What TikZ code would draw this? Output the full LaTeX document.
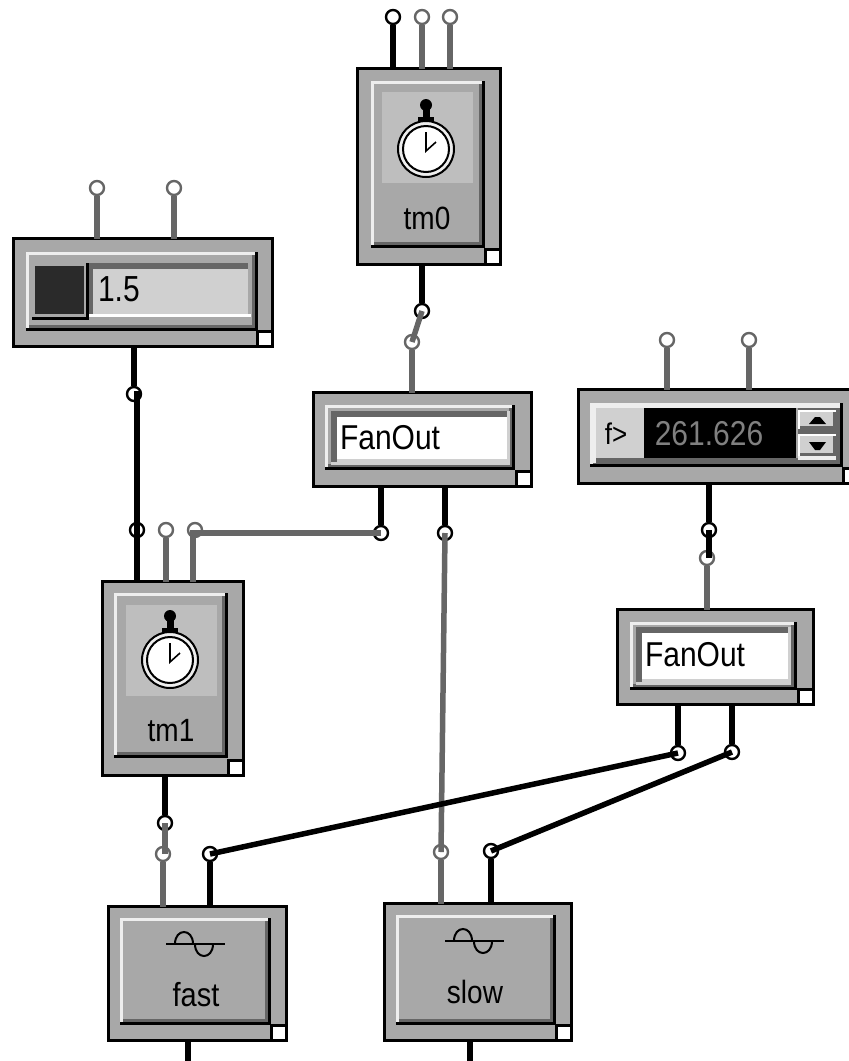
\documentclass[tikz,border=0pt]{standalone}
\usepackage{fontspec}
\setmainfont{Liberation Sans}
\definecolor{modgray}{HTML}{A8A8A8}
\definecolor{wiregray}{HTML}{666666}
\definecolor{lightpanel}{HTML}{BEBEBE}
\definecolor{fieldgray}{HTML}{D0D0D0}
\definecolor{bevelwhite}{HTML}{EEEEEE}
\definecolor{darkbtn}{HTML}{2A2A2A}
\definecolor{lcdtext}{HTML}{808080}
\newdimen\pxu \pxu=0.75pt
\tikzset{
  modbox/.style={draw=black,fill=modgray,line width=3\pxu,inner sep=0pt,outer sep=0pt},
  handlebox/.style={draw=black,fill=white,line width=3\pxu},
  portb/.style={circle,draw=black,fill=white,line width=2.4\pxu,inner sep=0pt,minimum size=14\pxu},
  portg/.style={circle,draw=wiregray,fill=white,line width=2.4\pxu,inner sep=0pt,minimum size=14\pxu},
  wireb/.style={draw=black,line width=5.5\pxu},
  wireg/.style={draw=wiregray,line width=5.5\pxu},
  lbl/.style={inner sep=0pt,outer sep=0pt,text=black},
  thinink/.style={draw=black,line width=2\pxu},
}
\newcommand{\pxt}[2]{\scalebox{1}[1.15]{\fontsize{#1\pxu}{#1\pxu}\selectfont #2}}
% name x1 y1 x2 y2
\newcommand{\modbody}[5]{%
  \node[modbox,minimum width={(#4-#2-3)*\pxu},minimum height={(#5-#3-3)*\pxu}] (#1) at ({(#2+#4)/2},{(#3+#5)/2}) {};
  \draw[handlebox] ({#4-16.5},{#5-16.5}) rectangle ({#4-1.5},{#5-1.5});
}
\newcommand{\panel}[4]{%
  \fill[black] (#1,#2) rectangle (#3,#4);
  \fill[bevelwhite] (#1,#2) rectangle ({#3-3},{#4-3});
  \fill[wiregray] ({#1+3},{#2+3}) rectangle ({#3-3},{#4-3});
  \fill[modgray] ({#1+3},{#2+3}) rectangle ({#3-6},{#4-6});
}
\newcommand{\sunken}[4]{%
  \fill[fieldgray] (#1,#2) rectangle (#3,#4);
  \fill[wiregray] (#1,#2) rectangle ({#3-3},{#4-3});
  \fill[white] ({#1+6},{#2+6}) rectangle ({#3-3},{#4-6});
  \fill[fieldgray] ({#1+6},{#4-6}) rectangle ({#3-3},{#4-3});
}
\newcommand{\watch}[2]{%
  \fill[black] ({#1},{#2-44}) circle (6);
  \fill[black] ({#1-3.5},{#2-42}) rectangle ({#1+3.5},{#2-28});
  \fill[black] ({#1-8},{#2-32}) rectangle ({#1+8},{#2-27});
  \draw[thinink,fill=bevelwhite] (#1,#2) circle (28);
  \draw[thinink,fill=white] (#1,#2) circle (23);
  \draw[black,line width=1.6\pxu] ({#1},{#2-17}) -- ({#1},{#2+2}) -- ({#1+10},{#2-7});
}
\newcommand{\sinewave}[2]{%
  \draw[black,line width=2\pxu] (#1,#2) -- ({#1+59},#2);
  \draw[black,line width=2\pxu] ({#1+9},#2) .. controls ({#1+9},{#2-16}) and ({#1+27},{#2-16}) .. ({#1+27},#2);
  \draw[black,line width=2\pxu] ({#1+29},#2) .. controls ({#1+29},{#2+16}) and ({#1+47},{#2+16}) .. ({#1+47},#2);
}
% x1 y1 x2 y2 : one spin button
\newcommand{\spinbtn}[4]{%
  \fill[white] (#1,#2) rectangle (#3,#4);
  \fill[wiregray] ({#1+2},{#2+2}) rectangle (#3,#4);
  \fill[fieldgray] ({#1+2},{#2+2}) rectangle ({#3-3},{#4-3});
}
\begin{document}
\begin{tikzpicture}[x=0.75pt,y=-0.75pt]
\useasboundingbox (0,0) rectangle (849,1061);
\clip (0,0) rectangle (849,1061);

% --- modules ---
\modbody{tmzero}{356}{67}{502}{266}
\panel{371}{81}{485}{248}
\fill[lightpanel] (382,92) rectangle (473,183);
\watch{426}{149}
\node[lbl] (tmzerolbl) at (427,218) {\pxt{28}{tm0}};

\modbody{ctrl}{12}{237}{274}{348}
\panel{26}{252}{258}{331}
\fill[wiregray] (89,263) rectangle (248,317);
\fill[fieldgray] (93,269) rectangle (248,314);
\fill[white] (89,314) rectangle (251,317);
\fill[modgray] (32,263) rectangle (89,320);
\fill[black] (32,317) rectangle (89,320);
\fill[black] (86,263) rectangle (89,320);
\fill[darkbtn] (35,266) rectangle (84,314);
\node[lbl,anchor=west] (ctrllbl) at (98,289) {\scalebox{1}[1.05]{\pxt{30}{1.5}}};

\modbody{fanone}{312}{391}{533}{488}
\panel{325}{405}{515}{470}
\sunken{331}{411}{510}{465}
\node[lbl,anchor=west] (fanonelbl) at (340,438) {\pxt{30}{FanOut}};

\modbody{numeric}{577}{388}{860}{485}
\panel{590}{403}{843}{467}
\fill[bevelwhite] (593,406) rectangle (840,408);
\fill[bevelwhite] (593,406) rectangle (596,463);
\fill[wiregray] (596,458) rectangle (840,463);
\fill[fieldgray] (596,408) rectangle (644,458);
\fill[black] (644,408) rectangle (796,458);
\fill[wiregray] (796,408) rectangle (840,458);
\fill[modgray] (796,408) rectangle (798,458);
\fill[bevelwhite] (798,456) rectangle (836,460);
\spinbtn{798}{410}{836}{429}
\spinbtn{798}{434}{836}{456}
\fill[black] (809,424) -- (815,417) -- (820,417) -- (826,424) -- cycle;
\fill[black] (809,442) -- (826,442) -- (820,450) -- (815,450) -- cycle;
\node[lbl] (numf) at (616,434) {\pxt{26}{f>}};
\node[lbl,text=lcdtext] (numval) at (709,434) {\pxt{30}{261.626}};

\modbody{tmone}{101}{580}{245}{777}
\panel{114}{593}{228}{758}
\fill[lightpanel] (126,605) rectangle (217,696);
\watch{170}{660}
\node[lbl] (tmonelbl) at (171,731) {\pxt{28}{tm1}};

\modbody{fantwo}{616}{608}{815}{706}
\panel{630}{622}{797}{690}
\sunken{636}{627}{791}{685}
\node[lbl,anchor=west] (fantwolbl) at (645,655) {\pxt{30}{FanOut}};

\modbody{fast}{107}{905}{288}{1042}
\panel{120}{918}{271}{1025}
\sinewave{166}{944}
\node[lbl] (fastlbl) at (196,995) {\pxt{29}{fast}};

\modbody{slow}{383}{902}{573}{1042}
\panel{396}{915}{556}{1025}
\sinewave{445}{941}
\node[lbl] (slowlbl) at (475,992) {\pxt{28}{slow}};

% --- ports ---
\node[portb] (tzin) at (393,17) {};
\node[portg] (tzb) at (422,17) {};
\node[portg] (tzc) at (450,17) {};
\node[portg] (ca) at (97,188) {};
\node[portg] (cb) at (174,188) {};
\node[portb] (cout) at (134,394) {};
\node[portb] (tzout) at (422,311) {};
\node[portg] (fain) at (412,342) {};
\node[portb] (tiin) at (137,530) {};
\node[portg] (tib) at (166,530) {};
\node[portg] (tic) at (195,530) {};
\node[portb] (faa) at (381,533) {};
\node[portb] (fab) at (445,533) {};
\node[portg] (na) at (667,340) {};
\node[portg] (nb) at (749,340) {};
\node[portb] (nout) at (709,530) {};
\node[portg] (fbin) at (707,558) {};
\node[portb] (fba) at (678,753) {};
\node[portb] (fbb) at (732,752) {};
\node[portb] (tiout) at (165,823) {};
\node[portg] (fsa) at (163,854) {};
\node[portb] (fsb) at (210,854) {};
\node[portg] (sla) at (441,852) {};
\node[portb] (slb) at (491,851) {};
\coordinate (fastdown) at (188,1061);
\coordinate (slowdown) at (470,1061);
\coordinate (bend) at (193,533);

% --- stubs to the tops of modules ---
\draw[wireb] (tzin) -- (tzin |- tmzero.north);
\draw[wireg] (tzb) -- (tzb |- tmzero.north);
\draw[wireg] (tzc) -- (tzc |- tmzero.north);
\draw[wireg] (ca) -- (ca |- ctrl.north);
\draw[wireg] (cb) -- (cb |- ctrl.north);
\draw[wireg] (fain) -- (fain |- fanone.north);
\draw[wireb] (tiin.center) -- (tiin |- tmone.north);
\draw[wireg] (tib) -- (tib |- tmone.north);
\draw[wireg] (na) -- (na |- numeric.north);
\draw[wireg] (nb) -- (nb |- numeric.north);
\draw[wireg] (fbin) -- (fbin |- fantwo.north);
\draw[wireg] (fsa) -- (fsa |- fast.north);
\draw[wireb] (fsb) -- (fsb |- fast.north);
\draw[wireg] (sla) -- (sla |- slow.north);
\draw[wireb] (slb) -- (slb |- slow.north);

% --- outputs ---
\draw[wireb] (tzout |- tmzero.south) -- (tzout);
\draw[wireb] (cout |- ctrl.south) -- (cout);
\draw[wireb] (faa |- fanone.south) -- (faa);
\draw[wireb] (fab |- fanone.south) -- (fab);
\draw[wireb] (nout |- numeric.south) -- (nout);
\draw[wireb] (fba |- fantwo.south) -- (fba);
\draw[wireb] (fbb |- fantwo.south) -- (fbb);
\draw[wireb] (tiout |- tmone.south) -- (tiout);
\draw[wireb] (fastdown |- fast.south) -- (fastdown);
\draw[wireb] (slowdown |- slow.south) -- (slowdown);

% --- connections ---
\draw[wireg] (tzout.center) -- (fain.center);
\draw[wireb] (cout.center) -- (tiin |- cout.center) -- (tiin.center);
\draw[wireg] (faa.center) -- (bend) -- (bend |- tmone.north);
\draw[wireg] (fab.center) -- (sla.center);
\draw[wireb] (nout.center) -- (nout |- fbin.center);
\draw[wireb] (fba.center) -- (fsb.center);
\draw[wireb] (fbb.center) -- (slb.center);
\draw[wireg] (tiout.center) -- (tiout |- fsa.center);
\end{tikzpicture}
\end{document}
